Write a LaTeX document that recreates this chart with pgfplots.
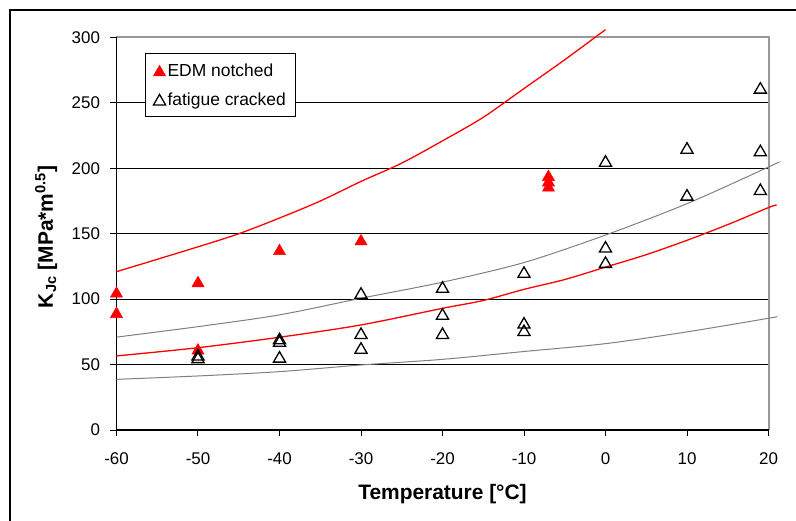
\documentclass[border=0pt]{standalone}
\usepackage{fontspec}
\setmainfont{Liberation Sans}
\usepackage{pgfplots}
\pgfplotsset{compat=1.18}

\definecolor{edmred}{RGB}{255,0,0}
\definecolor{bordergray}{RGB}{153,153,153}
\definecolor{bandgray}{RGB}{128,128,128}
\newcommand\tickfont{\fontsize{17}{20}\selectfont}
\newcommand\legfont{\fontsize{17.5}{20}\selectfont}
\newcommand\labfont{\fontsize{21}{24}\selectfont\bfseries}

\begin{document}
\begin{tikzpicture}
\begin{axis}[
  scale only axis, width=652bp, height=392.5bp,
  xmin=-60, xmax=20, ymin=0, ymax=300,
  clip=false,
  axis line style={draw=none},
  xtick={-60,-50,...,20},
  xticklabels={-60,-50,-40,-30,-20,-10,0,10,20},
  ytick={0,50,...,300},
  yticklabels={0,50,100,150,200,250,300},
  tick pos=left, tick align=outside, major tick length=6bp,
  tick style={black, line width=1bp},
  ymajorgrids, grid style={black, line width=1bp},
  tick label style={font=\tickfont},
  xticklabel style={yshift=-13bp},
  yticklabel style={xshift=-7bp},
  xlabel={Temperature [°C]},
  ylabel={K\textsubscript{Jc} [MPa*m\textsuperscript{0.5}]},
  label style={font=\labfont},
  xlabel style={at={(axis description cs:0.5,-0.1783)}, anchor=base},
  ylabel style={at={(axis description cs:-0.0974,0.492)}, anchor=base},
  legend style={at={(axis description cs:0.0437,0.9605)}, anchor=north west,
    draw=black, line width=1bp, font=\legfont,
    inner xsep=8bp, inner ysep=8bp, row sep=11bp},
  legend cell align=left,
]
% plot area frame: black left/bottom, grey top/right
\draw[bordergray, line width=2bp] (rel axis cs:0,1) -- (rel axis cs:1,1) -- (rel axis cs:1,0);
\draw[black, line width=1.5bp] (rel axis cs:0,1) -- (rel axis cs:0,0) -- (rel axis cs:1,0);

% fitted curves
\addplot[forget plot, edmred, line width=1.3bp, smooth] coordinates {
  (-60,121) (-50,140) (-45,150) (-40,162) (-35,175) (-30,190) (-25,204)
  (-20,221) (-15,239) (-10,261) (-5,283) (0,306)
};
\addplot[forget plot, edmred, line width=1.3bp, smooth] coordinates {
  (-60,56.6) (-50,62.9) (-40,70.9) (-30,80.3) (-20,93) (-15,99) (-10,107.5)
  (-5,115) (0,124.5) (5,134) (10,145) (15,157) (20,170) (21,172)
};
\addplot[forget plot, bandgray, line width=1bp, smooth] coordinates {
  (-60,71) (-50,79) (-40,88) (-30,100.7) (-20,113) (-10,128) (0,149)
  (10,173) (20,201) (21,204)
};
\addplot[forget plot, bandgray, line width=1bp, smooth] coordinates {
  (-60,38.7) (-50,41.3) (-40,44.6) (-30,49.7) (-20,54) (-10,60) (0,66)
  (10,75) (20,85.4) (21,86.6)
};

% EDM notched
\addplot[only marks, mark=triangle*, mark size=7bp,
  mark options={draw=edmred, fill=edmred, line width=0.5bp, yshift=-1.75bp}] coordinates {
  (-60,105.5) (-60,90) (-50,113.5) (-50,62) (-40,138) (-30,145.5)
  (-7,194.7) (-7,190.5) (-7,186.5)
};
\addlegendentry{EDM notched}

% fatigue cracked
\addplot[only marks, mark=triangle, mark size=7bp,
  mark options={draw=black, line width=1.3bp, yshift=-1.75bp}] coordinates {
  (-50,55.5) (-50,57.5)
  (-40,68) (-40,70) (-40,55.9)
  (-30,104.7) (-30,74) (-30,62.7)
  (-20,109.3) (-20,88.7) (-20,74)
  (-10,120.7) (-10,81.9) (-10,76.2)
  (0,205.6) (0,140) (0,128.3)
  (10,215.6) (10,179.7)
  (19,261.5) (19,213.7) (19,184)
};
\addlegendentry{fatigue cracked}
\end{axis}
\draw[black, line width=2bp] (-106.5bp,-150bp) -- (-106.5bp,420bp) -- (750bp,420bp);
\pgfresetboundingbox
\useasboundingbox (-116.5bp,-91bp) rectangle (679.5bp,430bp);
\end{tikzpicture}
\end{document}
